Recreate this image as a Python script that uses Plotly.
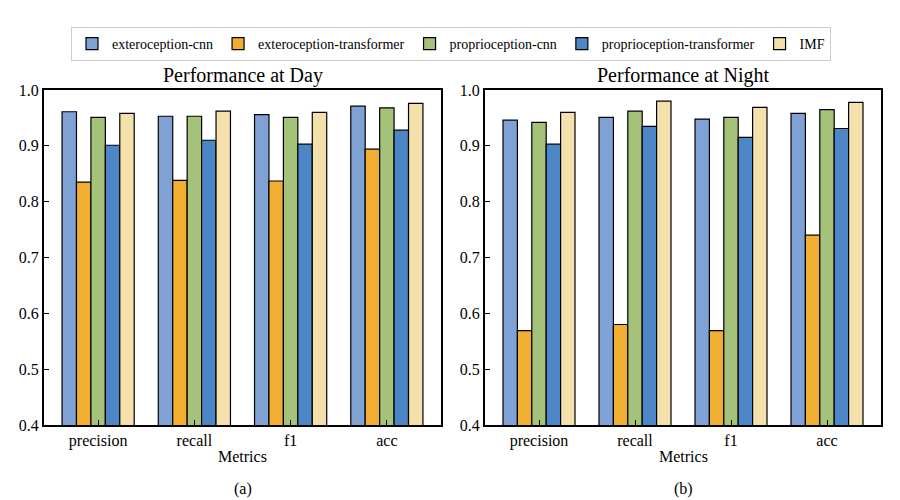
import plotly.graph_objects as go

metrics = ["precision", "recall", "f1", "acc"]
series_names = ["exteroception-cnn", "exteroception-transformer", "proprioception-cnn",
                "proprioception-transformer", "IMF"]
colors = ["#7FA1D4", "#F2AE30", "#A4C27A", "#4C86C6", "#F4E0AB"]

day_ext_cnn = [0.961, 0.953, 0.956, 0.971]
day_ext_trans = [0.835, 0.838, 0.837, 0.894]
day_prop_cnn = [0.951, 0.953, 0.951, 0.968]
day_prop_trans = [0.901, 0.910, 0.903, 0.928]
day_imf = [0.958, 0.962, 0.960, 0.976]

night_ext_cnn = [0.946, 0.951, 0.948, 0.958]
night_ext_trans = [0.569, 0.580, 0.569, 0.740]
night_prop_cnn = [0.942, 0.962, 0.951, 0.965]
night_prop_trans = [0.903, 0.935, 0.915, 0.931]
night_imf = [0.960, 0.980, 0.969, 0.978]

y_ticks = [0.4, 0.5, 0.6, 0.7, 0.8, 0.9, 1.0]

day = [day_ext_cnn, day_ext_trans, day_prop_cnn, day_prop_trans, day_imf]
night = [night_ext_cnn, night_ext_trans, night_prop_cnn, night_prop_trans, night_imf]

FONT = "Liberation Serif, Times New Roman, serif"
xpos = list(range(len(metrics)))

fig = go.Figure()
for i, name in enumerate(series_names):
    fig.add_trace(go.Bar(x=xpos, y=day[i], name=name, marker_color=colors[i],
                         marker_line=dict(color="black", width=1.2),
                         xaxis="x", yaxis="y", legendgroup=name, showlegend=True))
for i, name in enumerate(series_names):
    fig.add_trace(go.Bar(x=xpos, y=night[i], name=name, marker_color=colors[i],
                         marker_line=dict(color="black", width=1.2),
                         xaxis="x2", yaxis="y2", legendgroup=name, showlegend=False))

xa = dict(range=[-0.5625, 3.5625], tickmode="array", tickvals=xpos, ticktext=metrics,
          ticks="inside", ticklen=5, tickwidth=1, tickcolor="black",
          showline=True, linecolor="black", linewidth=2, mirror=True,
          showgrid=False, zeroline=False, automargin=False,
          tickfont=dict(family=FONT, size=16, color="black"))
ya = dict(range=[0.4, 1.0], tickmode="array", tickvals=y_ticks,
          ticktext=[f"{v:.1f}" for v in y_ticks],
          ticks="inside", ticklen=5, tickwidth=1, tickcolor="black",
          showline=True, linecolor="black", linewidth=2, mirror=True,
          showgrid=False, zeroline=False, automargin=False,
          tickfont=dict(family=FONT, size=16, color="black"))

# the page body adds an 8px offset; work in screen pixels and compensate
OFF = 8
W, H = 900 - OFF, 500 - OFF
L, R, T, B = 44 - OFF, 881 - OFF, 89.5 - OFF, 425 - OFF
pw = R - L

def xd(a, b):
    return [(a - OFF - L) / pw, (b - OFF - L) / pw]

fig.update_layout(
    width=W, height=H,
    margin=dict(l=L, r=W - R, t=T, b=H - B, autoexpand=False),
    paper_bgcolor="white", plot_bgcolor="white",
    barmode="group", bargap=0.25, bargroupgap=0,
    font=dict(family=FONT, color="black"),
    xaxis=dict(xa, domain=xd(44, 441), anchor="y"),
    yaxis=dict(ya, domain=[0, 1], anchor="x"),
    xaxis2=dict(xa, domain=xd(485, 881), anchor="y2"),
    yaxis2=dict(ya, domain=[0, 1], anchor="x2"),
    legend=dict(orientation="h", xref="container", yref="container",
                x=(451 - OFF) / W, xanchor="center", y=1 - (44 - OFF) / H, yanchor="middle",
                font=dict(family=FONT, size=14, color="black"),
                bordercolor="#CCCCCC", borderwidth=1, bgcolor="white",
                traceorder="normal"),
    showlegend=True,
)

def ann_px(text, px, py, size):
    fig.add_annotation(text=text, x=(px - OFF - L) / pw, y=(B - (py - OFF)) / (B - T),
                       xref="paper", yref="paper",
                       xanchor="center", yanchor="middle", showarrow=False,
                       font=dict(family=FONT, size=size, color="black"))

ann_px("Performance at Day", (44 + 441) / 2, 75, 20)
ann_px("Performance at Night", (485 + 881) / 2, 75, 20)
ann_px("Metrics", (44 + 441) / 2, 457, 16)
ann_px("Metrics", (485 + 881) / 2, 457, 16)
ann_px("(a)", (44 + 441) / 2, 489, 16)
ann_px("(b)", (485 + 881) / 2, 489, 16)

fig.write_html("out.html")
